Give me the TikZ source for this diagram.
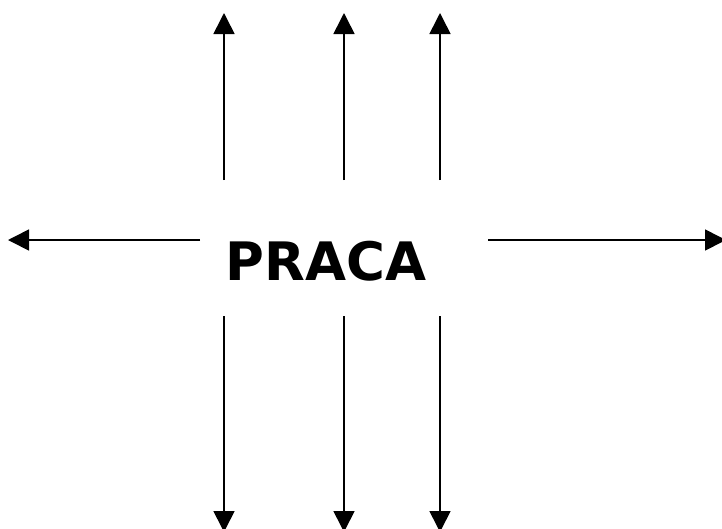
\documentclass[tikz,border=0pt]{standalone}
\usepackage{fontspec}
\setmainfont{DejaVu Sans}
\usetikzlibrary{arrows.meta}
\tikzset{
  conn/.style={line width=1.6pt, -{Triangle[length=21pt,width=21pt]}},
  lbl/.style={font=\bfseries\fontsize{53}{58}\selectfont, inner sep=0pt, anchor=base},
}
\begin{document}
\begin{tikzpicture}[x=1pt,y=-1pt]
\useasboundingbox (0,0) rectangle (722,528);
\node[lbl] (t) at (326,280) {PRACA};
% up arrows
\coordinate (u1s) at (224,180); \coordinate (u1e) at (224,13);
\coordinate (u2s) at (344,180); \coordinate (u2e) at (344,13);
\coordinate (u3s) at (440,180); \coordinate (u3e) at (440,13);
\draw[conn] (u1s) -- (u1e);
\draw[conn] (u2s) -- (u2e);
\draw[conn] (u3s) -- (u3e);
% down arrows
\coordinate (d1s) at (224,316); \coordinate (d1e) at (224,532);
\coordinate (d2s) at (344,316); \coordinate (d2e) at (344,532);
\coordinate (d3s) at (440,316); \coordinate (d3e) at (440,532);
\draw[conn] (d1s) -- (d1e);
\draw[conn] (d2s) -- (d2e);
\draw[conn] (d3s) -- (d3e);
% side arrows
\coordinate (ls) at (200,240); \coordinate (le) at (8,240);
\coordinate (rs) at (488,240); \coordinate (re) at (726,240);
\draw[conn] (ls) -- (le);
\draw[conn] (rs) -- (re);
\end{tikzpicture}
\end{document}
